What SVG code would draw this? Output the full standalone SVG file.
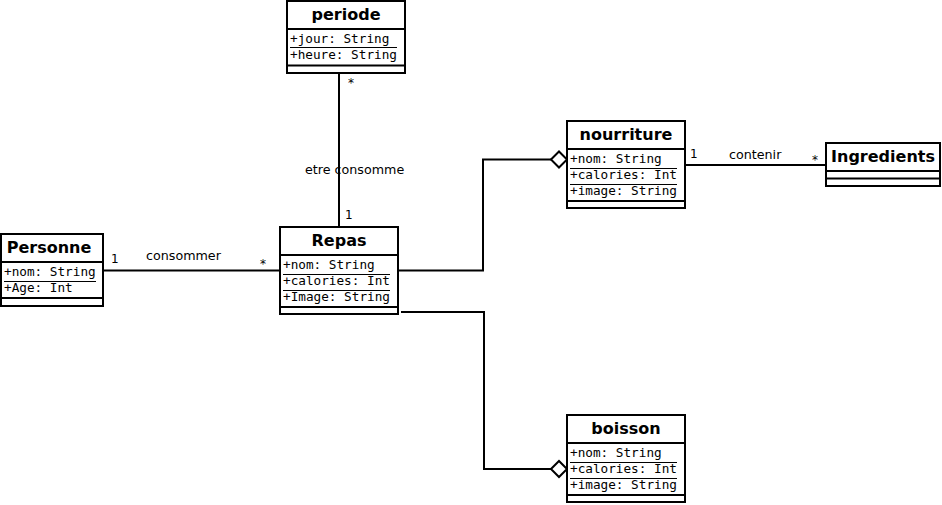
<svg xmlns="http://www.w3.org/2000/svg" width="942" height="505" viewBox="0 0 942 505">
<style>
.box{fill:#fff;stroke:#000;stroke-width:2}
.sep{stroke:#000;stroke-width:2;fill:none}
.ul{stroke:#000;stroke-width:1;fill:none;shape-rendering:crispEdges}
.title{font-family:"DejaVu Sans",sans-serif;font-weight:bold;font-size:16px;text-anchor:middle;fill:#000}
.attr{font-family:"DejaVu Sans Mono",monospace;font-size:12.7px;fill:#000}
.lbl{font-family:"DejaVu Sans",sans-serif;font-size:12.7px;fill:#000}
.mul{font-family:"DejaVu Sans",sans-serif;font-size:12px;fill:#000}
.ln{stroke:#000;stroke-width:2;fill:none}
.dia{fill:#fff;stroke:#000;stroke-width:2}
</style>
<rect width="942" height="505" fill="#fff"/>
<g id="connectors">
<line class="ln" x1="103" y1="270.5" x2="280" y2="270.5"/>
<line class="ln" x1="339" y1="73" x2="339" y2="227"/>
<polyline class="ln" points="398,270.5 483,270.5 483,159.5 551,159.5"/>
<polygon class="dia" points="551,159.5 559,151.5 567,159.5 559,167.5"/>
<polyline class="ln" points="401,312 484,312 484,469 551,469"/>
<polygon class="dia" points="551,469 559,461 567,469 559,477"/>
<line class="ln" x1="685" y1="165" x2="826" y2="165"/>
<text class="mul" x="111" y="263">1</text>
<text class="lbl" x="146" y="260">consommer</text>
<text class="mul" x="260" y="268">*</text>
<text class="mul" x="348" y="87">*</text>
<text class="lbl" x="305" y="174">etre consomme</text>
<text class="mul" x="345" y="219">1</text>
<text class="mul" x="690" y="158">1</text>
<text class="lbl" x="729" y="159">contenir</text>
<text class="mul" x="812" y="164">*</text>
</g>
<g id="periode">
<rect class="box" x="287" y="1" width="118" height="72"/>
<text class="title" x="346" y="20">periode</text>
<line class="sep" x1="287" y1="29" x2="405" y2="29"/>
<text class="attr" x="290" y="43">+jour: String</text>
<line class="ul" x1="290" y1="47.5" x2="397" y2="47.5"/>
<text class="attr" x="290" y="59">+heure: String</text>
<line class="sep" x1="287" y1="65.5" x2="405" y2="65.5"/>
</g>
<g id="Personne">
<rect class="box" x="1" y="234" width="102" height="72"/>
<text class="title" x="49" y="253">Personne</text>
<line class="sep" x1="1" y1="262" x2="103" y2="262"/>
<text class="attr" x="4" y="276">+nom: String</text>
<line class="ul" x1="4" y1="281.5" x2="96" y2="281.5"/>
<text class="attr" x="4" y="292">+Age: Int</text>
<line class="sep" x1="1" y1="298" x2="103" y2="298"/>
</g>
<g id="Repas">
<rect class="box" x="280" y="227" width="118" height="87"/>
<text class="title" x="339" y="246">Repas</text>
<line class="sep" x1="280" y1="255" x2="398" y2="255"/>
<text class="attr" x="283" y="269">+nom: String</text>
<line class="ul" x1="283" y1="274.5" x2="390" y2="274.5"/>
<text class="attr" x="283" y="285">+calories: Int</text>
<line class="ul" x1="283" y1="290.5" x2="390" y2="290.5"/>
<text class="attr" x="283" y="301">+Image: String</text>
<line class="sep" x1="280" y1="307" x2="398" y2="307"/>
</g>
<g id="nourriture">
<rect class="box" x="567" y="121" width="118" height="87"/>
<text class="title" x="626" y="140">nourriture</text>
<line class="sep" x1="567" y1="149" x2="685" y2="149"/>
<text class="attr" x="570" y="163">+nom: String</text>
<line class="ul" x1="570" y1="168.5" x2="677" y2="168.5"/>
<text class="attr" x="570" y="179">+calories: Int</text>
<line class="ul" x1="570" y1="184.5" x2="677" y2="184.5"/>
<text class="attr" x="570" y="195">+image: String</text>
<line class="sep" x1="567" y1="201" x2="685" y2="201"/>
</g>
<g id="Ingredients">
<rect class="box" x="826" y="143" width="114" height="43"/>
<text class="title" x="883" y="162">Ingredients</text>
<line class="sep" x1="826" y1="171" x2="940" y2="171"/>
<line class="sep" x1="826" y1="178.5" x2="940" y2="178.5"/>
</g>
<g id="boisson">
<rect class="box" x="567" y="415" width="118" height="87"/>
<text class="title" x="626" y="434">boisson</text>
<line class="sep" x1="567" y1="443" x2="685" y2="443"/>
<text class="attr" x="570" y="457">+nom: String</text>
<line class="ul" x1="570" y1="462.5" x2="677" y2="462.5"/>
<text class="attr" x="570" y="473">+calories: Int</text>
<line class="ul" x1="570" y1="478.5" x2="677" y2="478.5"/>
<text class="attr" x="570" y="489">+image: String</text>
<line class="sep" x1="567" y1="495" x2="685" y2="495"/>
</g>
</svg>
